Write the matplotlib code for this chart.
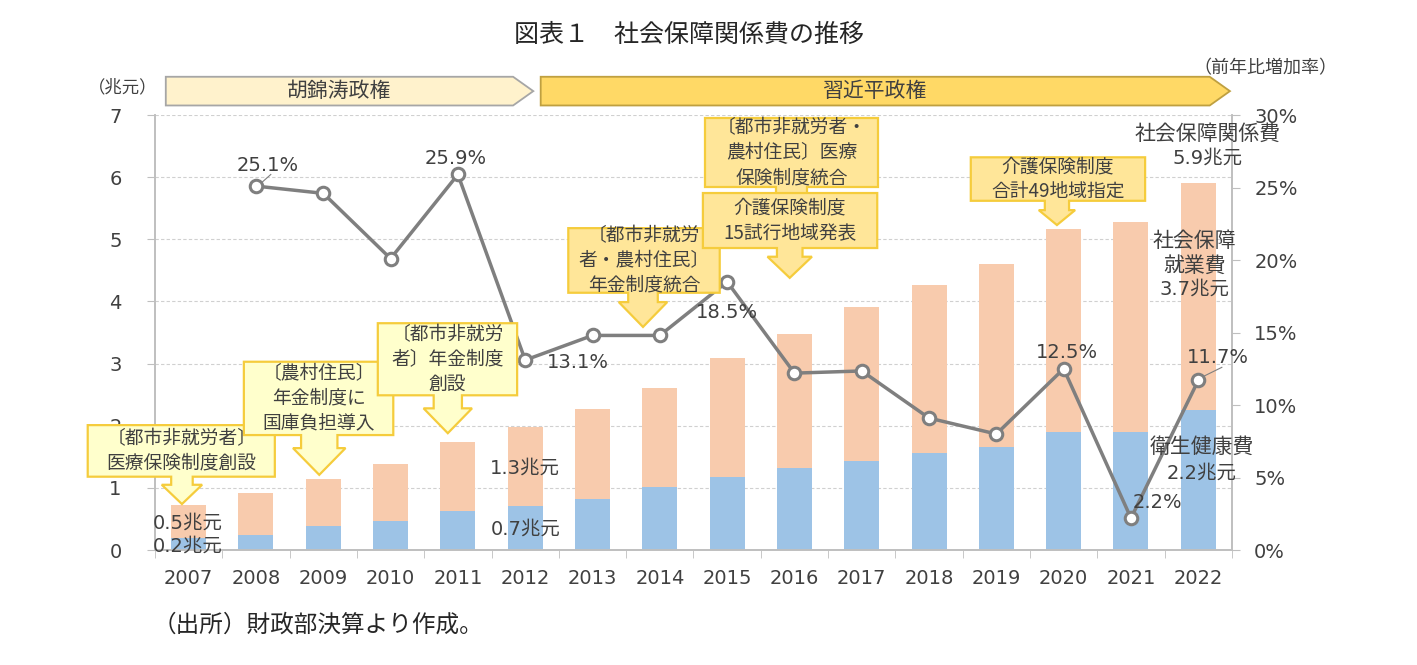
import matplotlib
matplotlib.use("Agg")
import matplotlib.pyplot as plt
from matplotlib.patches import Polygon
from matplotlib.transforms import blended_transform_factory
from matplotlib.ticker import FuncFormatter, MultipleLocator

plt.rcParams["font.family"] = ["Noto Sans CJK JP", "DejaVu Sans"]

# ── データ ────────────────────────────────────────────────────────────────
years = [2007, 2008, 2009, 2010, 2011, 2012, 2013, 2014, 2015, 2016,
         2017, 2018, 2019, 2020, 2021, 2022]
health = [0.19, 0.24, 0.39, 0.47, 0.63, 0.71, 0.82, 1.01, 1.18, 1.32,
          1.43, 1.56, 1.66, 1.90, 1.90, 2.25]            # 衛生健康費（兆元）
total = [0.72, 0.92, 1.14, 1.38, 1.74, 1.98, 2.27, 2.61, 3.09, 3.48,
         3.91, 4.27, 4.61, 5.17, 5.28, 5.91]             # 社会保障関係費（兆元）
growth = [None, 25.1, 24.6, 20.1, 25.9, 13.1, 14.8, 14.8, 18.5, 12.2,
          12.35, 9.1, 8.0, 12.5, 2.2, 11.7]              # 前年比増加率（%）
other = [t - h for t, h in zip(total, health)]           # 社会保障就業費

BLUE = "#9DC3E6"
PEACH = "#F8CBAD"
LINE_C = "#7F7F7F"
TXT = "#404040"
NUM = ["DejaVu Sans", "Noto Sans CJK JP"]

fig = plt.figure(figsize=(14.17, 6.65), dpi=100)
ax = fig.add_axes([0.1094, 0.1729, 0.76, 0.6541])
ax2 = ax.twinx()

x = list(range(len(years)))
ax.bar(x, health, width=0.52, color=BLUE, zorder=2)
ax.bar(x, other, width=0.52, bottom=health, color=PEACH, zorder=2)

ax.set_xlim(-0.5, len(years) - 0.5)
ax.set_ylim(0, 7)
ax2.set_ylim(0, 30)
ax.set_xticks(x)
ax.set_xticklabels([str(y) for y in years])
ax.set_xticks([i - 0.5 for i in range(len(years) + 1)], minor=True)
ax.tick_params(axis="x", which="major", length=0, pad=14, labelsize=14,
               labelcolor=TXT)
ax.tick_params(axis="x", which="minor", length=6, color="#BFBFBF")
ax.yaxis.set_major_locator(MultipleLocator(1))
ax.tick_params(axis="y", length=6, pad=18, labelsize=14, labelcolor=TXT,
               color="#BFBFBF")
ax2.yaxis.set_major_locator(MultipleLocator(5))
ax2.yaxis.set_major_formatter(FuncFormatter(lambda v, p: f"{v:.0f}%"))
ax2.tick_params(axis="y", length=6, pad=10, labelsize=14, labelcolor=TXT,
                color="#BFBFBF")
for lab in ax.get_xticklabels() + ax.get_yticklabels() + ax2.get_yticklabels():
    lab.set_family(NUM)
ax.grid(axis="y", color="#D0D0D0", ls=(0, (3, 2)), lw=0.8, zorder=0)
ax.set_axisbelow(True)
for a in (ax, ax2):
    a.spines["top"].set_visible(False)
    for s in ("left", "right", "bottom"):
        a.spines[s].set_color("#BFBFBF")
        a.spines[s].set_linewidth(1.2)

# 前年比増加率の折れ線
gx = [i for i, g in zip(x, growth) if g is not None]
gy = [g for g in growth if g is not None]
ax2.plot(gx, gy, "-o", color=LINE_C, lw=2.5, ms=9, mfc="white",
         mec=LINE_C, mew=2.2, zorder=4)

# ── 吹き出し（下向き矢印付き） ────────────────────────────────────────────
EDGE = "#F5CC3C"


def callout(box, xc, tip, sw, hw, hl, text, fc):
    x0, x1, y0, y1 = box
    yh = tip + hl
    pts = [(x0, y1), (x1, y1), (x1, y0), (xc + sw, y0), (xc + sw, yh),
           (xc + hw, yh), (xc, tip), (xc - hw, yh), (xc - sw, yh),
           (xc - sw, y0), (x0, y0)]
    ax2.add_patch(Polygon(pts, closed=True, fc=fc, ec=EDGE, lw=1.6,
                          transform=ax.transData, clip_on=False, zorder=6))
    ax2.text((x0 + x1) / 2, (y0 + y1) / 2, text, transform=ax.transData,
             ha="center", va="center", fontsize=13.5, color=TXT,
             linespacing=1.25, zorder=7, clip_on=False)


PALE = "#FFFFCC"
GOLD = "#FFE699"
callout((-1.50, 1.28, 1.18, 2.01), -0.10, 0.74, 0.16, 0.30, 0.31,
        "〔都市非就労者〕\n医療保険制度創設", PALE)
callout((0.82, 3.04, 1.85, 3.03), 1.94, 1.21, 0.27, 0.39, 0.43,
        "〔農村住民〕\n年金制度に\n国庫負担導入", PALE)
callout((2.81, 4.88, 2.49, 3.65), 3.85, 1.88, 0.21, 0.36, 0.40,
        "〔都市非就労\n者〕年金制度\n創設", PALE)
callout((5.64, 7.89, 4.14, 5.18), 6.75, 3.59, 0.22, 0.36, 0.40,
        "〔都市非就労\n者・農村住民〕\n年金制度統合", GOLD)
callout((7.67, 10.24, 5.84, 6.95), 8.96, 5.70, 0.23, 0.23, 0.0,
        "〔都市非就労者・\n農村住民〕医療\n保険制度統合", GOLD)
callout((7.64, 10.23, 4.86, 5.745), 8.93, 4.38, 0.19, 0.33, 0.34,
        "介護保険制度\n15試行地域発表", GOLD)
callout((11.62, 14.21, 5.62, 6.32), 12.90, 5.23, 0.18, 0.27, 0.24,
        "介護保険制度\n合計49地域指定", GOLD)

# ── 政権バナー ────────────────────────────────────────────────────────────
bt = blended_transform_factory(ax.transData, ax.transAxes)


def banner(x0, x1, xt, text, fc, ec):
    yb, yt = 1.022, 1.088
    ym = (yb + yt) / 2
    pts = [(x0, yt), (x1, yt), (xt, ym), (x1, yb), (x0, yb)]
    ax2.add_patch(Polygon(pts, closed=True, fc=fc, ec=ec, lw=1.3,
                          transform=bt, clip_on=False, zorder=5))
    ax2.text((x0 + x1) / 2, ym, text, transform=bt, ha="center",
             va="center", fontsize=15, color=TXT, clip_on=False, zorder=7)


banner(-0.34, 4.82, 5.12, "胡錦涛政権", "#FFF2CC", "#A6A6A6")
banner(5.23, 15.17, 15.47, "習近平政権", "#FFD966", "#BFA040")

# ── ラベル ────────────────────────────────────────────────────────────────
pct_labels = [(1.18, 26.55, "25.1%"), (3.96, 27.0, "25.9%"),
              (5.78, 12.9, "13.1%"), (7.99, 16.4, "18.5%"),
              (13.05, 13.6, "12.5%"), (14.39, 3.3, "2.2%"),
              (15.29, 13.3, "11.7%")]
for px, py, s in pct_labels:
    ax2.text(px, py, s, ha="center", va="center", fontsize=14, color=TXT,
             family=NUM, zorder=8, clip_on=False)
ax2.plot([1.05, 1.22], [25.2, 25.9], color=LINE_C, lw=0.8, zorder=3)
ax2.plot([15.0, 15.35], [11.8, 12.6], color=LINE_C, lw=0.8, zorder=3)

amt_labels = [(-0.02, 0.43, "0.5兆元", 14), (-0.02, 0.06, "0.2兆元", 14),
              (5.0, 1.32, "1.3兆元", 14), (5.0, 0.34, "0.7兆元", 14),
              (15.14, 6.69, "社会保障関係費", 15), (15.14, 6.31, "5.9兆元", 14),
              (14.94, 4.97, "社会保障", 15), (14.95, 4.57, "就業費", 15),
              (14.95, 4.20, "3.7兆元", 14), (15.05, 1.66, "衛生健康費", 15),
              (15.05, 1.24, "2.2兆元", 14)]
for px, py, s, fs in amt_labels:
    ax2.text(px, py, s, transform=ax.transData, ha="center", va="center",
             fontsize=fs, color=TXT, family=NUM, zorder=8, clip_on=False)

ax2.text(-0.975, 7.45, "（兆元）", transform=ax.transData, ha="center",
         va="center", fontsize=12.5, color=TXT, clip_on=False)
ax2.text(16.0, 7.76, "（前年比増加率）", transform=ax.transData, ha="center",
         va="center", fontsize=13, color=TXT, clip_on=False)

fig.text(0.486, 0.947, "図表１　社会保障関係費の推移", ha="center",
         va="center", fontsize=18, color="#262626")
fig.text(0.108, 0.060, "（出所）財政部決算より作成。", ha="left",
         va="center", fontsize=17, color="#262626")

fig.savefig("out.png", dpi=100)
